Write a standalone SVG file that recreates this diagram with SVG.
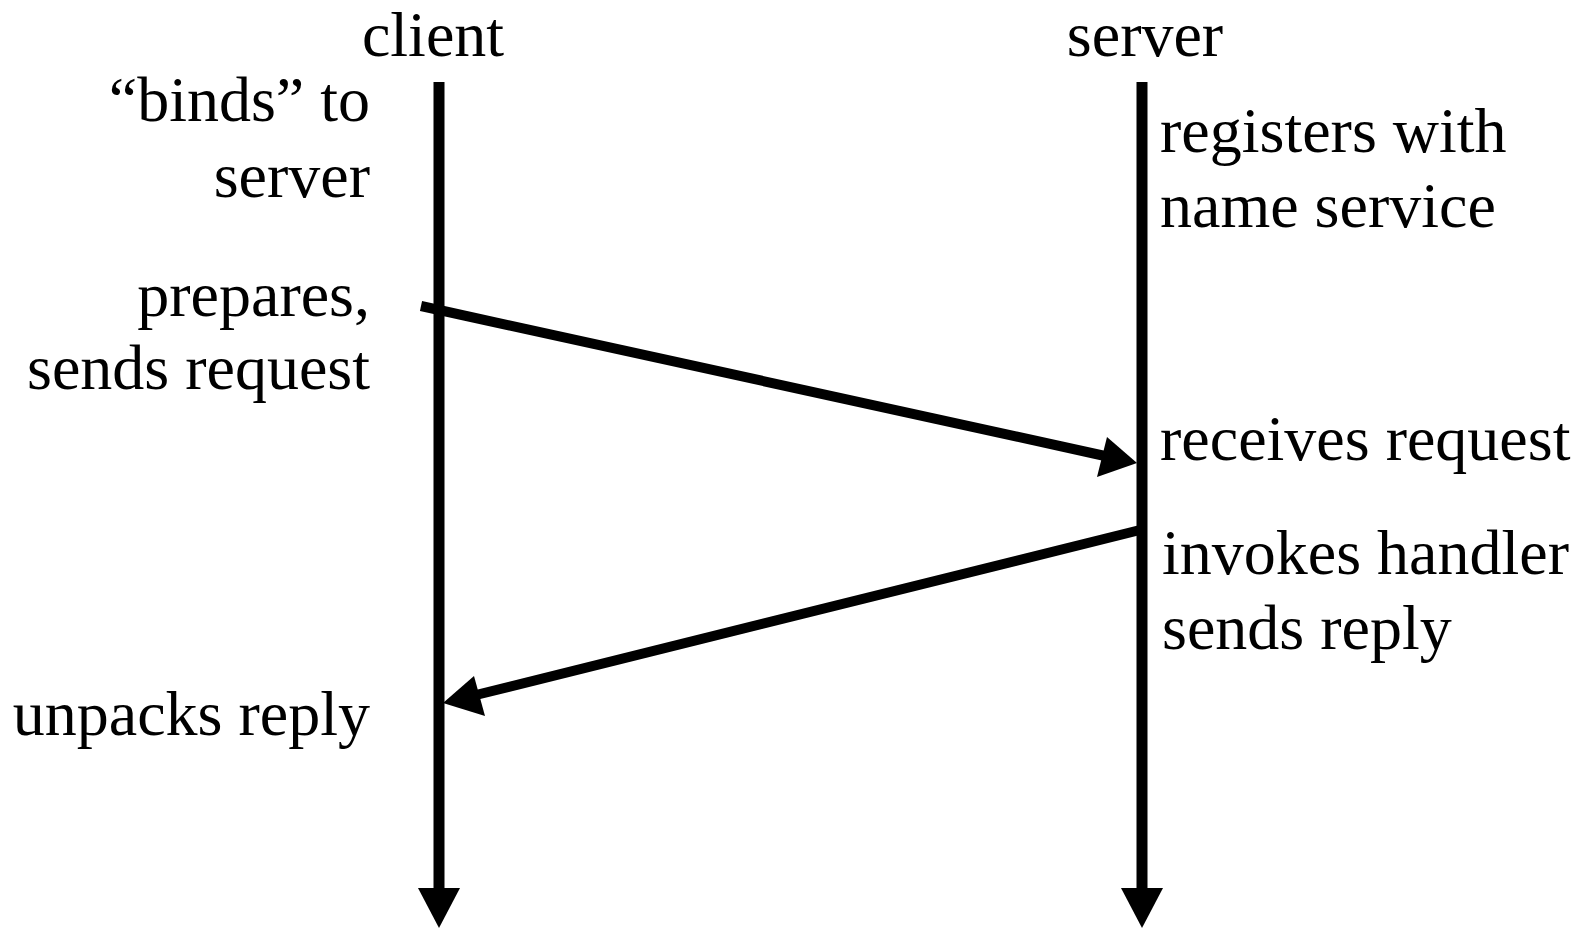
<svg xmlns="http://www.w3.org/2000/svg" width="1585" height="928" viewBox="0 0 1585 928">
<style>
text{font-family:"Liberation Serif","Times New Roman",serif;font-size:64px;fill:#000}
.l{text-anchor:end}
.m{text-anchor:middle}
.ln{stroke:#000;stroke-width:11;fill:none}
.msg{stroke:#000;stroke-width:10;fill:none}
.ah{fill:#000}
</style>
<rect width="1585" height="928" fill="#fff"/>
<g id="client">
<text class="m" x="433" y="56">client</text>
<line class="ln" x1="439" y1="82" x2="439" y2="890"/>
<polygon class="ah" points="418,888 460,888 439,928"/>
</g>
<g id="server">
<text class="m" x="1145" y="56">server</text>
<line class="ln" x1="1142" y1="82" x2="1142" y2="890"/>
<polygon class="ah" points="1121,888 1163,888 1142,928"/>
</g>
<g id="client-labels">
<text class="l" x="370" y="121">“binds” to</text>
<text class="l" x="370" y="197">server</text>
<text class="l" x="370" y="316">prepares,</text>
<text class="l" x="370" y="389">sends request</text>
<text class="l" x="370" y="735">unpacks reply</text>
</g>
<g id="server-labels">
<text x="1160" y="152">registers with</text>
<text x="1160" y="227">name service</text>
<text x="1160" y="460">receives request</text>
<text x="1162" y="574">invokes handler</text>
<text x="1162" y="649">sends reply</text>
</g>
<g id="connectors">
<line class="msg" x1="421" y1="306" x2="1105" y2="456"/>
<polygon class="ah" points="1137,463 1107,437 1097,477"/>
<line class="msg" x1="1140" y1="530" x2="476" y2="695"/>
<polygon class="ah" points="443,703 474,676 485,716"/>
</g>
</svg>
